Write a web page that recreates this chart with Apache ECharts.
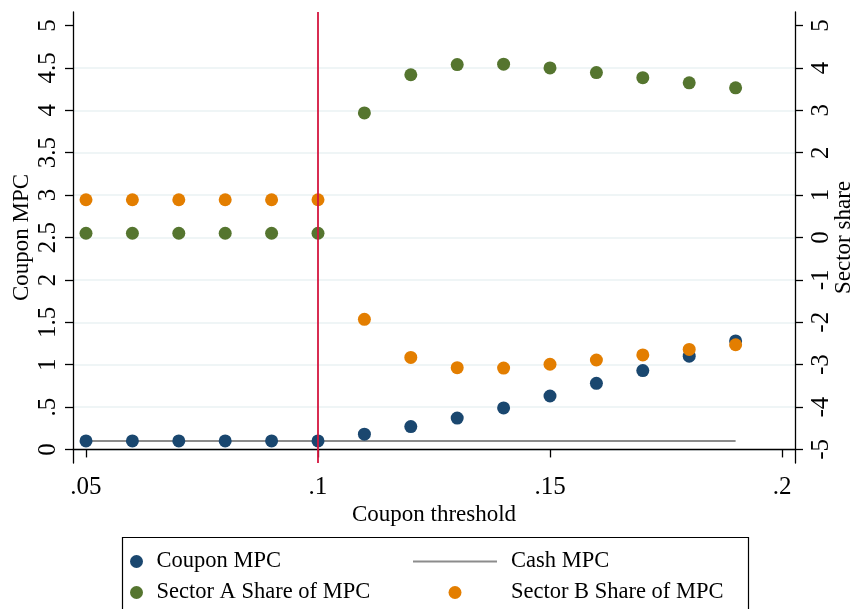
<!DOCTYPE html>
<html>
<head>
<meta charset="utf-8">
<script src="https://cdn.jsdelivr.net/npm/echarts@6/dist/echarts.min.js"></script>
<style>
html,body{margin:0;padding:0;background:#fff;}
#chart{width:855px;height:609px;}
</style>
</head>
<body>
<div id="chart"></div>
<script>
// ---- data ----
const thresholds = [0.05,0.06,0.07,0.08,0.09,0.10,0.11,0.12,0.13,0.14,0.15,0.16,0.17,0.18,0.19];
const couponMPC  = [0.10,0.10,0.10,0.10,0.10,0.10,0.18,0.27,0.37,0.49,0.63,0.78,0.93,1.10,1.28];
const cashMPC    = [0.10,0.10,0.10,0.10,0.10,0.10,0.10,0.10,0.10,0.10,0.10,0.10,0.10,0.10,0.10];
const sectorA    = [0.10,0.10,0.10,0.10,0.10,0.10,2.94,3.84,4.08,4.09,4.00,3.89,3.77,3.65,3.53];
const sectorB    = [0.89,0.89,0.89,0.89,0.89,0.89,-1.93,-2.83,-3.07,-3.08,-2.99,-2.89,-2.77,-2.64,-2.53];
const cutoff = 0.10;

const xTicks = [0.05,0.10,0.15,0.20];
const xTickLabels = ['.05','.1','.15','.2'];
const leftTicks = [0,0.5,1,1.5,2,2.5,3,3.5,4,4.5,5];
const leftTickLabels = ['0','.5','1','1.5','2','2.5','3','3.5','4','4.5','5'];
const gridTicks = [0,0.5,1,1.5,2,2.5,3,3.5,4,4.5];
const rightTicks = [-5,-4,-3,-2,-1,0,1,2,3,4,5];
const rightTickLabels = ['-5','-4','-3','-2','-1','0','1','2','3','4','5'];

const NAVY = '#1a476f', GREEN = '#55752f', ORANGE = '#e37e00', GRAY = '#8c8c8c', RED = '#d4163f';
const FONT = 'Liberation Serif';

function pairs(ys){ return thresholds.map((x,i)=>[x, ys[i]]); }
function labelFor(vals, labels){ return v => { const i = vals.findIndex(t => Math.abs(t - v) < 1e-9); return i >= 0 ? labels[i] : ''; }; }

const chart = echarts.init(document.getElementById('chart'), null, {renderer:'canvas'});
const axisLine = {show:true, lineStyle:{color:'#000', width:1.3}};
const axisTick = {show:true, length:8, lineStyle:{color:'#000', width:1.3}};

chart.setOption({
  backgroundColor:'#fff',
  animation:false,
  textStyle:{fontFamily:FONT},
  grid:{left:73, right:60, top:12, bottom:146, containLabel:false, outerBoundsMode:'none'},
  xAxis:{
    type:'value', min:0.0472, max:0.2028,
    name:'Coupon threshold', nameLocation:'middle', nameGap:40, nameMoveOverlap:false,
    nameTextStyle:{fontFamily:FONT, fontSize:23, color:'#000'},
    axisLine:axisLine,
    axisTick:Object.assign({customValues:xTicks}, axisTick),
    axisLabel:{customValues:xTicks, formatter:labelFor(xTicks,xTickLabels), fontFamily:FONT, fontSize:25, color:'#000', margin:12},
    splitLine:{show:false}
  },
  yAxis:[
    {
      type:'value', position:'left', min:-0.16, max:5.16,
      name:'Coupon MPC', nameLocation:'middle', nameGap:40, nameRotate:90, nameMoveOverlap:false,
      nameTextStyle:{fontFamily:FONT, fontSize:23, color:'#000'},
      axisLine:axisLine,
      axisTick:Object.assign({customValues:leftTicks}, axisTick),
      axisLabel:{customValues:leftTicks, formatter:labelFor(leftTicks,leftTickLabels), rotate:90, fontFamily:FONT, fontSize:25, color:'#000', margin:12},
      splitLine:{show:false}
    },
    {
      type:'value', position:'right', min:-5.32, max:5.32,
      name:'Sector share', nameLocation:'middle', nameGap:37, nameRotate:90, nameMoveOverlap:false,
      nameTextStyle:{fontFamily:FONT, fontSize:23, color:'#000'},
      axisLine:axisLine,
      axisTick:Object.assign({customValues:rightTicks}, axisTick),
      axisLabel:{customValues:rightTicks, formatter:labelFor(rightTicks,rightTickLabels), rotate:90, fontFamily:FONT, fontSize:25, color:'#000', margin:14},
      splitLine:{show:false}
    },
    {
      type:'value', position:'left', min:-0.16, max:5.16,
      axisLine:{show:false}, axisLabel:{show:false},
      axisTick:{show:false, customValues:gridTicks},
      splitLine:{show:true, lineStyle:{color:'#eaf2f3', width:1.6}}
    }
  ],
  legend:[
    {
      data:['Coupon MPC','Sector A Share of MPC'],
      orient:'vertical', left:125, top:545, height:100, itemWidth:14, itemHeight:13, itemGap:8,
      textStyle:{fontFamily:FONT, fontSize:22.5, color:'#000', padding:[0,0,0,8], lineHeight:22},
      icon:'circle'
    },
    {
      data:[{name:'Cash MPC', icon:'path://M0 0H100V2.4H0Z', itemStyle:{color:GRAY}}, {name:'Sector B Share of MPC', icon:'circle'}],
      orient:'vertical', left:408, top:545, height:100, itemWidth:84, itemHeight:13, itemGap:8,
      textStyle:{fontFamily:FONT, fontSize:22.5, color:'#000', padding:[0,0,0,9], lineHeight:22}
    }
  ],
  graphic:[
    {type:'rect', shape:{x:122.5, y:537.5, width:626, height:100}, style:{fill:null, stroke:'#000', lineWidth:1.2}, silent:true}
  ],
  series:[
    {
      name:'Cash MPC', type:'line', yAxisIndex:0, data:pairs(cashMPC),
      symbol:'none', lineStyle:{color:GRAY, width:2}, itemStyle:{color:GRAY}, z:2,
      markLine:{
        silent:true, symbol:'none', z:10, label:{show:false},
        lineStyle:{color:RED, width:1.8, type:'solid'},
        data:[{xAxis:cutoff}]
      }
    },
    {name:'Coupon MPC', type:'scatter', yAxisIndex:0, data:pairs(couponMPC), symbolSize:13, itemStyle:{color:NAVY, opacity:1}, z:3},
    {name:'Sector A Share of MPC', type:'scatter', yAxisIndex:1, data:pairs(sectorA), symbolSize:13, itemStyle:{color:GREEN, opacity:1}, z:3},
    {name:'Sector B Share of MPC', type:'scatter', yAxisIndex:1, data:pairs(sectorB), symbolSize:13, itemStyle:{color:ORANGE, opacity:1}, z:3}
  ]
});
</script>
</body>
</html>
